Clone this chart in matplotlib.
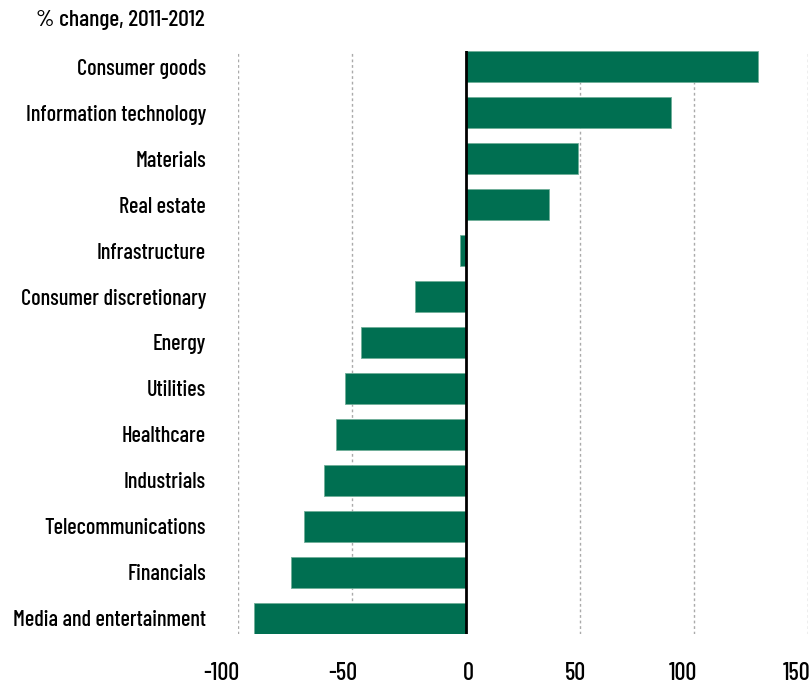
import matplotlib
matplotlib.use('Agg')
import matplotlib.pyplot as plt
from matplotlib.transforms import ScaledTranslation

# data
categories = ['Consumer goods', 'Information technology', 'Materials', 'Real estate',
              'Infrastructure', 'Consumer discretionary', 'Energy', 'Utilities',
              'Healthcare', 'Industrials', 'Telecommunications', 'Financials',
              'Media and entertainment']
values = [128, 90, 49, 36.5, -2.5, -22.2, -46.3, -53.2, -57, -62.3, -71, -76.6, -92.8]
xticks = [-100, -50, 0, 50, 100, 150]
# small pixel nudges of the x tick labels, as in the original
label_shift = [-17, -9.5, 2, -4.5, -11, -12]

plt.rcParams['font.family'] = ['Barlow Condensed', 'Roboto Condensed', 'PT Sans Narrow', 'DejaVu Sans']
plt.rcParams['font.weight'] = 'medium'

fig = plt.figure(figsize=(8.11, 6.86), dpi=100)
ax = fig.add_axes([238/811, 1-634/686, (808.3-238)/811, (634-51)/686])

pos = list(range(len(categories)))
ax.barh(pos, values, height=0.68, color='#006f51', edgecolor='#6fae98', linewidth=0.6, zorder=3)

ax.set_xlim(-100, 150)
ax.set_ylim(len(categories) - 0.66, -0.34)
ax.set_xticks(xticks)
ax.set_xticklabels([str(t) for t in xticks], fontsize=17.5)
ax.set_yticks(pos)
ax.set_yticklabels(categories, fontsize=16)
ax.tick_params(axis='y', length=0, pad=23)
ax.tick_params(axis='x', length=0, pad=20)

for lab, dx in zip(ax.get_xticklabels(), label_shift):
    lab.set_transform(lab.get_transform() + ScaledTranslation(dx / 100, 0, fig.dpi_scale_trans))

for t in xticks:
    if t == 0:
        ax.axvline(0, color='black', linewidth=2, zorder=4)
    else:
        ax.axvline(t, color='#aaaaaa', linewidth=1, linestyle=(0, (2, 2)), zorder=1)

for s in ax.spines.values():
    s.set_visible(False)

fig.text(205/811, 1-20/686, '% change, 2011-2012', ha='right', va='center', fontsize=17)

fig.savefig('out.png', dpi=100)
